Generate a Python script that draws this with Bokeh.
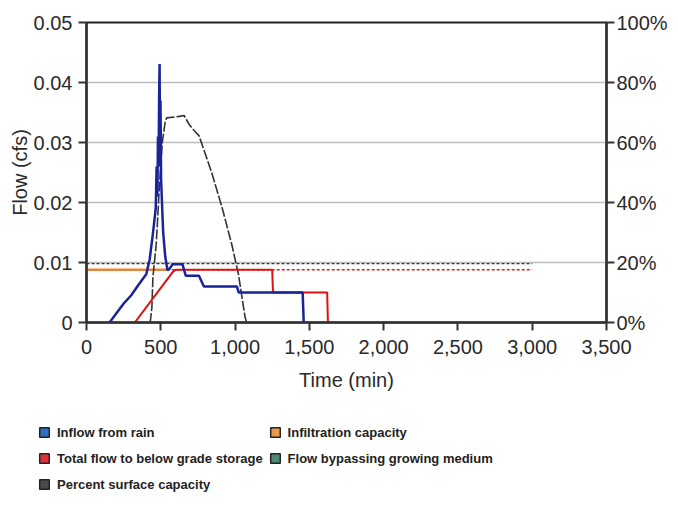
from bokeh.plotting import figure
from bokeh.models import (Range1d, LinearAxis, NumeralTickFormatter, FixedTicker,
                          Legend, LegendItem)
from bokeh.embed import file_html
from bokeh.resources import INLINE

# ---------------- data ----------------
x_ticks = [0, 500, 1000, 1500, 2000, 2500, 3000, 3500]
y_ticks = [0, 0.01, 0.02, 0.03, 0.04, 0.05]
y_tick_labels = ["0", "0.01", "0.02", "0.03", "0.04", "0.05"]
pct_ticks = [0, 0.2, 0.4, 0.6, 0.8, 1.0]

rain_time = [155, 200, 248, 300, 348, 403, 425, 447, 466, 472, 477, 481, 485,
             489, 492, 495, 498, 502, 508, 516, 530, 545, 560, 580, 646, 668, 757,
             790, 1012, 1025, 1455, 1462]
rain_flow = [0.0, 0.0015, 0.0031, 0.0045, 0.0062, 0.0081, 0.0105, 0.0148, 0.019,
             0.026, 0.021, 0.031, 0.026, 0.038, 0.0431, 0.029, 0.037, 0.024, 0.02,
             0.015, 0.011, 0.0087, 0.009, 0.0097, 0.0097, 0.0078, 0.0078,
             0.006, 0.006, 0.005, 0.005, 0.0]

infil_time_a = [0, 540]
infil_flow_a = [0.0088, 0.0088]
infil_time_b = [540, 3000]
infil_flow_b = [0.0088, 0.0088]

total_time = [325, 580, 600, 1250, 1255, 1620, 1625]
total_flow = [0.0, 0.0084, 0.0088, 0.0088, 0.005, 0.005, 0.0]

bypass_time = [0, 3000]
bypass_flow = [0.0098, 0.0098]

pct_time = [420, 430, 440, 447, 469, 475, 490, 510, 530, 540, 624, 657, 691,
            724, 757, 801, 845, 912, 978, 1023, 1067, 1078]
pct_surface = [0.0, 0.005, 0.05, 0.15, 0.26, 0.31, 0.45, 0.6, 0.67, 0.682,
               0.687, 0.69, 0.66, 0.64, 0.623, 0.56, 0.496, 0.384, 0.26, 0.16,
               0.018, 0.0]

# legend entries (column-major order: left column, then right column)
legend_labels = ["Inflow from rain", "Total flow to below grade storage",
                 "Percent surface capacity", "Infiltration capacity",
                 "Flow bypassing growing medium"]
legend_colors = ["#2f6fc4", "#e0303c", "#4a4a4a", "#e89a4a", "#4f8a78"]

# ---------------- main figure ----------------
W = 670
p = figure(width=W, height=400, output_backend="svg", toolbar_location=None,
           x_range=Range1d(0, 3500), y_range=Range1d(0, 0.05),
           min_border_left=86, min_border_right=57, min_border_top=22,
           min_border_bottom=78)
p.background_fill_color = "white"
p.border_fill_color = "white"
p.outline_line_color = "#222222"
p.outline_line_width = 2
p.extra_y_ranges = {"pct": Range1d(0, 1)}

font = "Liberation Sans"
tick_size = "20px"

p.xaxis.ticker = FixedTicker(ticks=x_ticks)
p.xaxis.formatter = NumeralTickFormatter(format="0,0")
p.yaxis.ticker = FixedTicker(ticks=y_ticks)
p.yaxis.major_label_overrides = {t: l for t, l in zip(y_ticks, y_tick_labels)}
p.xaxis.axis_label = "Time (min)"
p.yaxis.axis_label = "Flow (cfs)"

right = LinearAxis(y_range_name="pct", ticker=FixedTicker(ticks=pct_ticks),
                   formatter=NumeralTickFormatter(format="0%"))
p.add_layout(right, "right")

for ax in [p.xaxis[0], p.yaxis[0], right]:
    ax.axis_line_color = "#333333"
    ax.axis_line_width = 2.5
    ax.major_tick_line_color = "#333333"
    ax.major_tick_line_width = 2
    ax.major_tick_out = 8
    ax.major_tick_in = 0
    ax.minor_tick_line_color = None
    ax.major_label_text_font = font
    ax.major_label_text_font_size = tick_size
    ax.major_label_text_color = "#2a2a2a"
    ax.axis_label_text_font = font
    ax.axis_label_text_font_size = "20px"
    ax.axis_label_text_font_style = "normal"
    ax.axis_label_text_color = "#2a2a2a"
p.xaxis.major_label_standoff = 9
p.xaxis.axis_label_standoff = 12
p.yaxis.axis_label_standoff = 0
p.yaxis.major_label_standoff = 6
right.major_label_standoff = 2

p.xgrid.grid_line_color = None
p.ygrid.ticker = FixedTicker(ticks=[0.01, 0.02, 0.03, 0.04])
p.ygrid.grid_line_color = "#bdbdbd"
p.ygrid.grid_line_width = 1.5

# ---------------- series ----------------
p.line(bypass_time, bypass_flow, line_color="#333344", line_width=1.2, line_dash="3 2")
p.line(infil_time_a, infil_flow_a, line_color="#e8843a", line_width=2.5)
p.line(infil_time_b, infil_flow_b, line_color="#e02020", line_width=1.5, line_dash="3 2")
p.line(pct_time, pct_surface, y_range_name="pct", line_color="#333333",
       line_width=1.6, line_dash="10 2")
p.line(total_time, total_flow, line_color="#dd1111", line_width=2)
p.line(rain_time, rain_flow, line_color="#1a239a", line_width=2.5)

# ---------------- legend figure ----------------
q = figure(width=W, height=100, output_backend="svg", toolbar_location=None,
           x_range=Range1d(0, 1), y_range=Range1d(0, 1),
           min_border=0, outline_line_color=None)
q.axis.visible = False
q.grid.visible = False
q.background_fill_color = "white"
q.border_fill_color = "white"

items = []
for lab, col in zip(legend_labels, legend_colors):
    # swatch renderer kept outside the visible range; only its legend glyph shows
    r = q.quad(left=[-5], right=[-4], bottom=[-5], top=[-4], fill_color=col,
               line_color="#222222", line_width=1.5)
    items.append(LegendItem(label=lab, renderers=[r]))

legend = Legend(items=items, ncols=2, location=(38, 6),
                border_line_color=None, background_fill_alpha=0,
                label_text_font=font, label_text_font_size="13px",
                label_text_font_style="bold", label_text_color="#222222",
                glyph_width=12, glyph_height=12, label_height=20,
                spacing=6, padding=0, margin=0, label_standoff=7)
q.add_layout(legend, "center")

open("out.html", "w").write(file_html((p, q), INLINE))
